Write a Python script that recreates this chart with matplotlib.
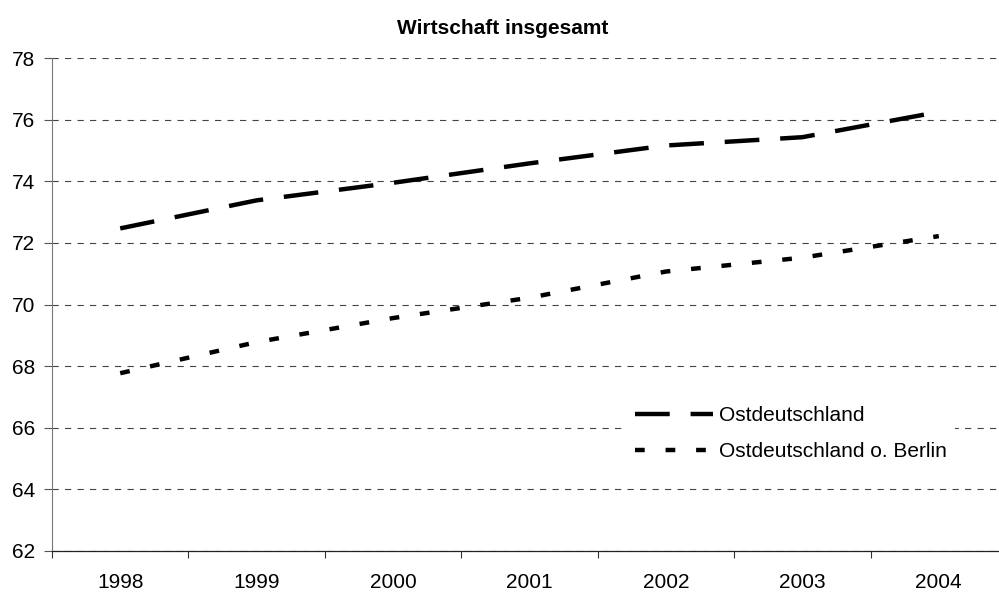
import matplotlib.pyplot as plt
import numpy as np

plt.rcParams['font.family'] = ['Liberation Sans', 'DejaVu Sans']
plt.rcParams['lines.scale_dashes'] = False

years = ['1998', '1999', '2000', '2001', '2002', '2003', '2004']
ost = [72.47, 73.38, 73.95, 74.58, 75.16, 75.43, 76.25]
ost_ohne_berlin = [67.77, 68.78, 69.56, 70.22, 71.07, 71.52, 72.22]

fig = plt.figure(figsize=(9.99, 5.94), dpi=100)
ax = fig.add_axes([52/999, 1 - 551/594, 955/999, (551 - 58)/594])

x = np.arange(len(years))
ax.plot(x, ost, color='black', lw=3.2, dashes=(25, 15), dash_capstyle='butt',
        label='Ostdeutschland')
ax.plot(x, ost_ohne_berlin, color='black', lw=3.2, dashes=(7, 15),
        dash_capstyle='butt', label='Ostdeutschland o. Berlin')

ax.set_xlim(-0.5, len(years) - 0.5)
ax.set_ylim(62, 78)
ax.set_yticks(np.arange(62, 79, 2))
ax.yaxis.grid(True, color='#444444', lw=0.8, dashes=(4.5, 4.5))
ax.set_axisbelow(True)

# ticks between categories, labels in the middle
ax.set_xticks(np.arange(-0.5, len(years), 1))
ax.set_xticklabels([])
ax.set_xticks(x, minor=True)
ax.set_xticklabels(years, minor=True)
ax.tick_params(axis='x', which='minor', length=0, pad=16, labelsize=15)
ax.tick_params(axis='x', which='major', length=5, width=0.8, color='#333333')
ax.tick_params(axis='y', length=6, width=0.8, color='#555555', labelsize=15, pad=6)

for s in ['top', 'right']:
    ax.spines[s].set_visible(False)
ax.spines['left'].set_color('#777777')
ax.spines['bottom'].set_color('#222222')
ax.spines['left'].set_linewidth(0.8)
ax.spines['bottom'].set_linewidth(0.9)

fig.text(0.503, 1 - 28/594, 'Wirtschaft insgesamt', ha='center', va='center',
         fontsize=15, fontweight='bold')

leg = ax.legend(loc='center left', bbox_to_anchor=(627/999, 1 - 433.5/594),
                bbox_transform=fig.transFigure,
                frameon=True, edgecolor='none', facecolor='white', framealpha=1,
                fontsize=15, handlelength=3.75, handletextpad=0.25,
                labelspacing=0.82, borderpad=0.4, borderaxespad=0)
leg.get_frame().set_boxstyle('square', pad=0)

fig.savefig('out.png', dpi=100)
